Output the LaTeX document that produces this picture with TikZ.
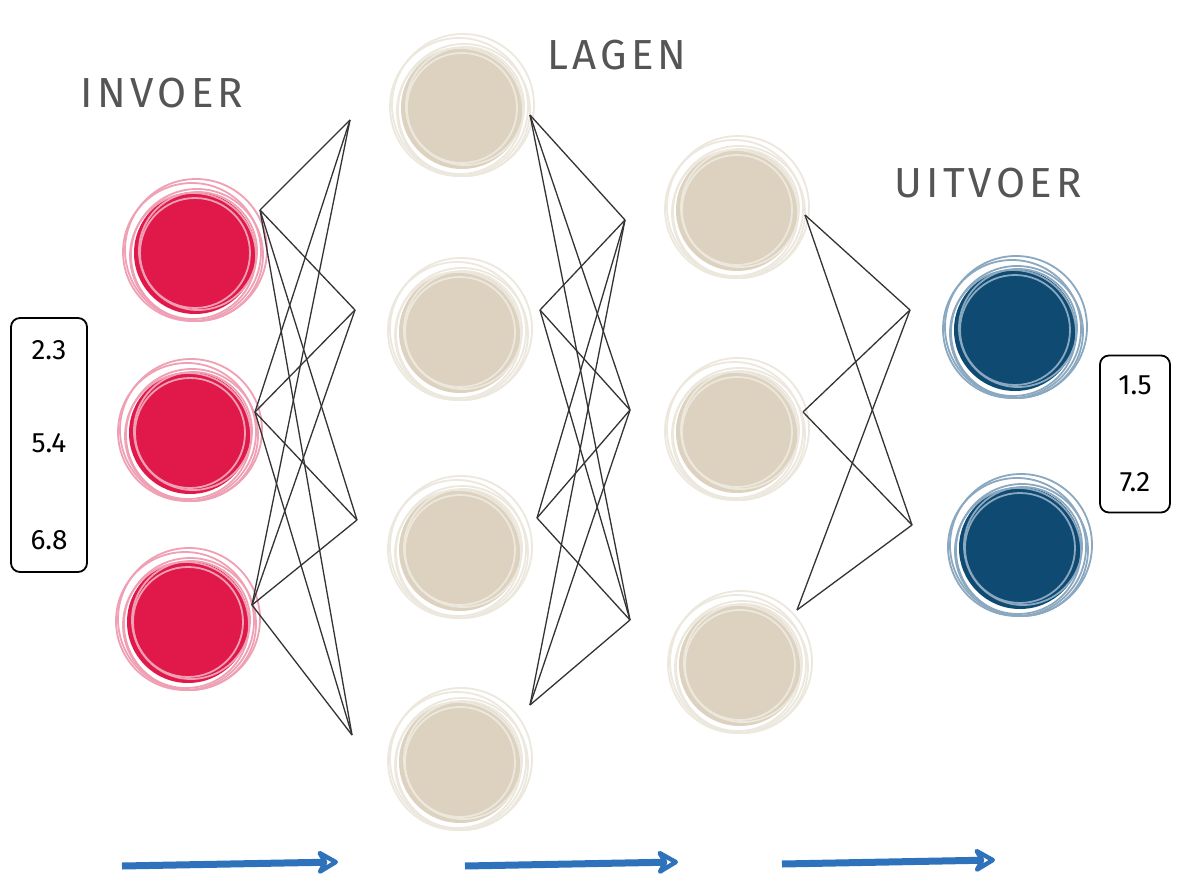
\documentclass[tikz,border=0pt]{standalone}
\usepackage{fontspec}
\setmainfont{Fira Sans}
\usetikzlibrary{arrows.meta}
\definecolor{inred}{HTML}{E0194A}
\definecolor{inring}{HTML}{F0A0B5}
\definecolor{hid}{HTML}{DCD2BF}
\definecolor{hidring}{HTML}{EDE8DE}
\definecolor{outb}{HTML}{0E4A72}
\definecolor{outring}{HTML}{8AA8C0}
\definecolor{txt}{HTML}{555555}
\definecolor{arr}{HTML}{2E72BB}
\tikzset{
  neuron/.style={circle,minimum size=122pt,inner sep=0pt},
  ring/.style={line width=1.8pt},
  conn/.style={draw=black!80,line width=1.3pt},
  lbl/.style={font=\fontsize{42}{42}\selectfont\addfontfeatures{LetterSpace=10},text=txt},
  num/.style={font=\fontsize{28}{28}\selectfont,text=black},
  vbox/.style={draw=black,line width=1.8pt,rounded corners=9pt},
  flow/.style={draw=arr,line width=7pt,-{Stealth[length=26pt,width=30pt,open,line width=6pt,round]}}
}
\newcommand{\sketchneuron}[5]{% name, x, y, fill, ring
  \node[neuron,fill=#4] (#1) at (#2,#3) {};
  \foreach \dx/\dy/\r in {0/0/55,3/-2/59,-2/3/63,2/2/66,-3/-1/69,1/-3/71}
    \draw[ring,#5] (#2+\dx,#3+\dy) circle (\r pt);
}
\begin{document}
\begin{tikzpicture}[x=1pt,y=-1pt]
\useasboundingbox[fill=white] (0,0) rectangle (1200,896);
% neurons
\sketchneuron{i1}{195}{253}{inred}{inring}
\sketchneuron{i2}{190}{433}{inred}{inring}
\sketchneuron{i3}{188}{622}{inred}{inring}
\sketchneuron{a1}{462}{108}{hid}{hidring}
\sketchneuron{a2}{460}{332}{hid}{hidring}
\sketchneuron{a3}{460}{550}{hid}{hidring}
\sketchneuron{a4}{460}{762}{hid}{hidring}
\sketchneuron{b1}{737}{210}{hid}{hidring}
\sketchneuron{b2}{737}{432}{hid}{hidring}
\sketchneuron{b3}{740}{665}{hid}{hidring}
\sketchneuron{o1}{1015}{330}{outb}{outring}
\sketchneuron{o2}{1020}{548}{outb}{outring}
% connector points
\coordinate (p1) at (260,210); \coordinate (p2) at (255,412); \coordinate (p3) at (252,605);
\coordinate (q1) at (350,120); \coordinate (q2) at (355,310); \coordinate (q3) at (357,520); \coordinate (q4) at (352,735);
\coordinate (r1) at (530,115); \coordinate (r2) at (540,310); \coordinate (r3) at (537,518); \coordinate (r4) at (530,705);
\coordinate (s1) at (625,220); \coordinate (s2) at (630,410); \coordinate (s3) at (630,620);
\coordinate (t1) at (805,215); \coordinate (t2) at (803,412); \coordinate (t3) at (797,610);
\coordinate (u1) at (910,310); \coordinate (u2) at (912,525);
\foreach \a in {p1,p2,p3} \foreach \b in {q1,q2,q3,q4} \draw[conn] (\a) -- (\b);
\foreach \a in {r1,r2,r3,r4} \foreach \b in {s1,s2,s3} \draw[conn] (\a) -- (\b);
\foreach \a in {t1,t2,t3} \foreach \b in {u1,u2} \draw[conn] (\a) -- (\b);
% labels
\node[lbl] (l1) at (162,93) {INVOER};
\node[lbl] (l2) at (617,55) {LAGEN};
\node[lbl] (l3) at (988,183) {UITVOER};
% value boxes
\node[vbox,minimum width=76pt,minimum height=254pt] (bx1) at (49,445) {};
\node[num] (n1) at (49,350) {2.3};
\node[num] (n2) at (49,443) {5.4};
\node[num] (n3) at (49,540) {6.8};
\node[vbox,minimum width=70pt,minimum height=157pt] (bx2) at (1135,434) {};
\node[num] (n4) at (1135,385) {1.5};
\node[num] (n5) at (1135,482) {7.2};
% flow arrows
\coordinate (f1a) at (122,866); \coordinate (f1b) at (338,862);
\coordinate (f2a) at (465,866); \coordinate (f2b) at (678,862);
\coordinate (f3a) at (782,864); \coordinate (f3b) at (995,860);
\draw[flow] (f1a) -- (f1b);
\draw[flow] (f2a) -- (f2b);
\draw[flow] (f3a) -- (f3b);
\end{tikzpicture}
\end{document}
